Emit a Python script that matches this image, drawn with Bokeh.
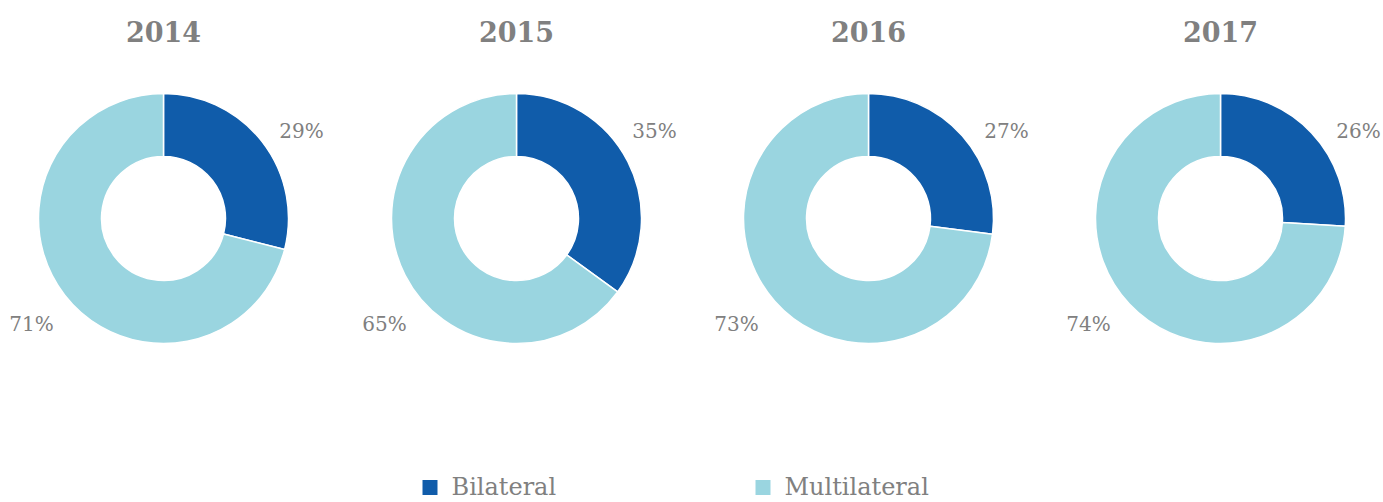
import numpy as np
from bokeh.plotting import figure
from bokeh.models import Range1d, ColumnDataSource
from bokeh.core.properties import value
from bokeh.embed import file_html
from bokeh.resources import INLINE

years = ["2014", "2015", "2016", "2017"]
categories = ["Bilateral", "Multilateral"]
bilateral = [29, 35, 27, 26]
multilateral = [71, 65, 73, 74]
colors = ["#105caa", "#9ad5e0"]
text_color = "#808080"
serif = value("DejaVu Serif")

W, H = 1383, 502
p = figure(width=W, height=H, output_backend="svg", toolbar_location=None,
           x_range=Range1d(0, W), y_range=Range1d(0, H), min_border=0)
p.axis.visible = False
p.grid.visible = False
p.outline_line_color = None
p.background_fill_color = "white"

centers_x = [163, 516, 868, 1220]
cy = H - 218
r_out, r_in = 125, 62

for i, yr in enumerate(years):
    vals = [bilateral[i], multilateral[i]]
    fr = np.array(vals, dtype=float) / sum(vals)
    cum = np.concatenate([[0], np.cumsum(fr)])
    # clockwise from top
    starts = np.pi / 2 - cum[1:] * 2 * np.pi
    ends = np.pi / 2 - cum[:-1] * 2 * np.pi
    src = ColumnDataSource(dict(x=[centers_x[i]] * 2, y=[cy] * 2, s=starts, e=ends, c=colors))
    p.annular_wedge(x="x", y="y", inner_radius=r_in, outer_radius=r_out, start_angle="s",
                    end_angle="e", fill_color="c", line_color="white", line_width=1.5, source=src)
    p.text(x=[centers_x[i]], y=[H - 31], text=[yr], text_font=serif, text_font_style="bold",
           text_font_size="27px", text_color=text_color, text_align="center", text_baseline="middle")
    p.text(x=[centers_x[i] + 138], y=[H - 130], text=[f"{bilateral[i]}%"], text_font=serif,
           text_font_size="20px", text_color=text_color, text_align="center", text_baseline="middle")
    p.text(x=[centers_x[i] - 132], y=[H - 323], text=[f"{multilateral[i]}%"], text_font=serif,
           text_font_size="20px", text_color=text_color, text_align="center", text_baseline="middle")

leg_x = [422, 755]
for j, cat in enumerate(categories):
    p.rect(x=[leg_x[j] + 7.5], y=[H - 487], width=15, height=15, fill_color=colors[j], line_color=None)
    p.text(x=[leg_x[j] + 29], y=[H - 486.5], text=[cat], text_font=serif, text_font_size="24px",
           text_color=text_color, text_align="left", text_baseline="middle")

open("out.html", "w").write(file_html(p, INLINE))
